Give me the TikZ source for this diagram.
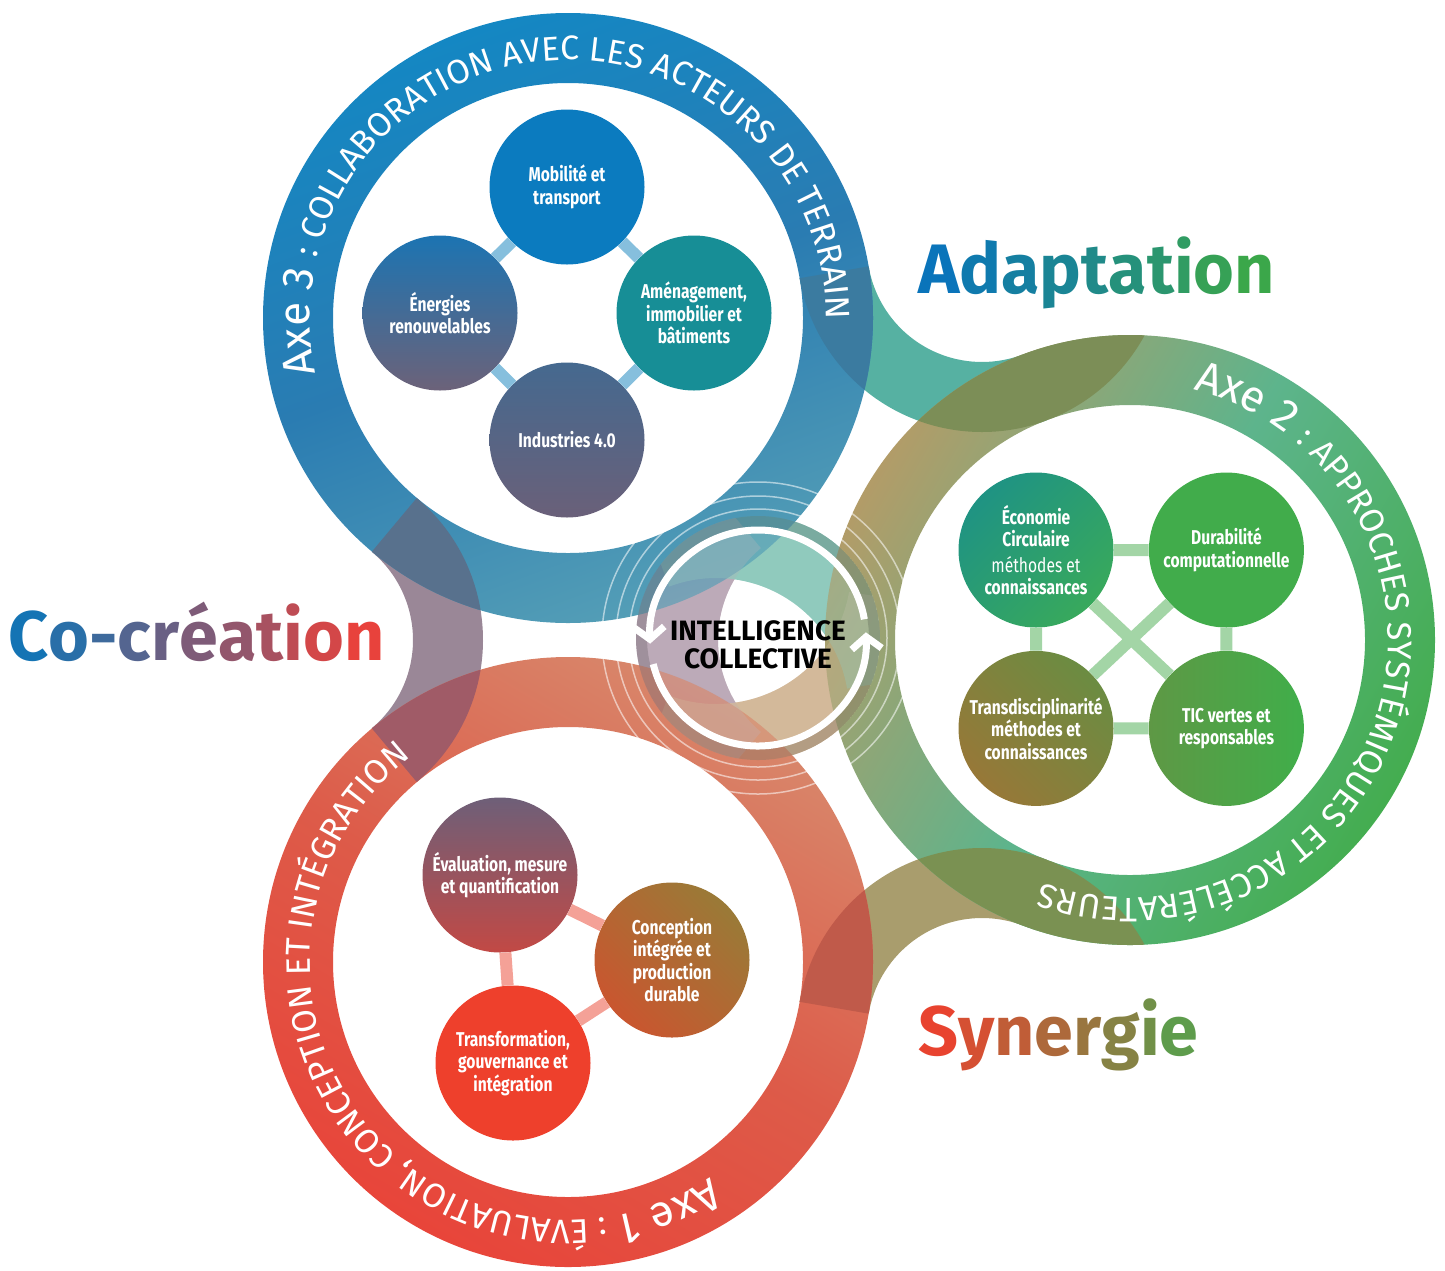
\documentclass[tikz,border=0pt]{standalone}
\usepackage{fontspec}
\setmainfont{Fira Sans}
\newfontfamily\labelfont{Fira Sans}[FakeStretch=0.78]
\definecolor{ringonetop}{RGB}{20, 135, 195}
\definecolor{ringonemid}{RGB}{42, 124, 178}
\definecolor{ringonebot}{RGB}{84, 158, 182}
\definecolor{ringtwoleft}{RGB}{178, 156, 104}
\definecolor{ringtwomid}{RGB}{93, 180, 140}
\definecolor{ringtworight}{RGB}{68, 173, 80}
\definecolor{ringthreetop}{RGB}{216, 135, 107}
\definecolor{ringthreemid}{RGB}{221, 91, 73}
\definecolor{ringthreebot}{RGB}{232, 69, 58}
\definecolor{bridgeAB}{RGB}{86, 177, 162}
\definecolor{bridgeAC}{RGB}{154, 135, 151}
\definecolor{bridgeBC}{RGB}{169, 157, 109}
\definecolor{overABa}{RGB}{59, 123, 160}
\definecolor{overABb}{RGB}{124, 142, 87}
\definecolor{overACa}{RGB}{88, 113, 141}
\definecolor{overACc}{RGB}{160, 91, 103}
\definecolor{overBCb}{RGB}{122, 145, 82}
\definecolor{overBCc}{RGB}{192, 90, 74}
\definecolor{innerteal}{RGB}{144, 202, 189}
\definecolor{innerlilac}{RGB}{188, 170, 184}
\definecolor{innertan}{RGB}{211, 185, 154}
\definecolor{mobil}{RGB}{11, 123, 191}
\definecolor{enerA}{RGB}{28, 116, 178}
\definecolor{enerB}{RGB}{108, 98, 121}
\definecolor{amena}{RGB}{23, 142, 150}
\definecolor{induA}{RGB}{69, 105, 143}
\definecolor{induB}{RGB}{106, 96, 121}
\definecolor{econA}{RGB}{31, 147, 131}
\definecolor{econB}{RGB}{56, 169, 92}
\definecolor{durab}{RGB}{65, 172, 75}
\definecolor{transA}{RGB}{151, 120, 56}
\definecolor{transB}{RGB}{107, 140, 66}
\definecolor{ticA}{RGB}{94, 152, 69}
\definecolor{ticB}{RGB}{64, 174, 74}
\definecolor{evalA}{RGB}{110, 95, 120}
\definecolor{evalB}{RGB}{194, 73, 69}
\definecolor{concA}{RGB}{201, 86, 47}
\definecolor{concB}{RGB}{154, 122, 55}
\definecolor{transf}{RGB}{238, 64, 44}
\definecolor{lnkblue}{RGB}{134, 191, 221}
\definecolor{lnkgreen}{RGB}{163, 213, 166}
\definecolor{lnkred}{RGB}{244, 161, 151}
\definecolor{adaptA}{RGB}{10, 116, 186}
\definecolor{adaptB}{RGB}{59, 167, 74}
\definecolor{cocreaA}{RGB}{20, 116, 180}
\definecolor{cocreaB}{RGB}{232, 66, 60}
\definecolor{synA}{RGB}{232, 67, 47}
\definecolor{synB}{RGB}{94, 156, 76}
\usetikzlibrary{
  arrows.meta,
  calc,
  decorations.text,
  positioning,
}
\tikzset{
  >=Straight Barb[],
  topic/.style={circle, minimum size=155pt, inner sep=0pt, align=center, text=white,
    font=\labelfont\bfseries\fontsize{20}{22.5}\selectfont},
  link1/.style={draw=lnkblue, line width=12pt},
  link2/.style={draw=lnkgreen, line width=12pt},
  link3/.style={draw=lnkred, line width=12pt},
  ringone/.style={even odd rule, top color=ringonetop, bottom color=ringonebot,
    middle color=ringonemid, shading angle=20},
  ringtwo/.style={even odd rule, left color=ringtwoleft, right color=ringtworight,
    middle color=ringtwomid, shading angle=60},
  ringthree/.style={even odd rule, top color=ringthreetop, bottom color=ringthreebot,
    middle color=ringthreemid, shading angle=-30},
  turnarrow/.style={draw=white, line width=7pt, -{Straight Barb[length=12pt, width=30pt]}},
  ringtext/.style={decorate, decoration={text along path, text align=center,
    text color=white, text={#1}}},
  bigword/.style={inner sep=0pt, font=\bfseries\fontsize{70}{70}\selectfont},
}
% annular piece: centre, start, end, inner radius, outer radius
\newcommand{\band}[5]{(#1) ++(#2:#5) arc[start angle=#2, end angle=#3, radius=#5]
  -- ($(#1)+(#3:#4)$) arc[start angle=#3, end angle=#2, radius=#4] -- cycle}
\newcommand{\ring}[1]{(#1) circle (305) (#1) circle (235)}
\newcommand{\axefont}{\fontsize{44}{44}\selectfont}
\newcommand{\capfont}{\fontsize{34}{34}\selectfont}
\ExplSyntaxOn
\NewDocumentCommand \gradword { m m m }
  {
    \int_set:Nn \l_tmpa_int { \tl_count:n { #3 } - 1 }
    \int_zero:N \l_tmpb_int
    \tl_map_inline:nn { #3 }
      {
        \tl_set:Nx \l_tmpa_tl { #2 ! \int_eval:n { 100 * \l_tmpb_int / \l_tmpa_int } ! #1 }
        \exp_args:NV \textcolor \l_tmpa_tl { ##1 }
        \int_incr:N \l_tmpb_int
      }
  }
\ExplSyntaxOff

\begin{document}
\begin{tikzpicture}[x=1pt, y=-1pt]
  \useasboundingbox (0,0) rectangle (1445,1270);
  \coordinate (P1) at (568,318);
  \coordinate (P2) at (1130,640);
  \coordinate (P3) at (568,962);
  \coordinate (C) at (758,638);
  \coordinate (B12) at (982,247);
  \coordinate (B13) at (298,640);
  \coordinate (B23) at (982,1033);
  \coordinate (I12) at (716,711);
  \coordinate (I13) at (838,640);
  \coordinate (I23) at (716,569);

  % bridges
  \fill[bridgeAB] \band{B12}{69.4}{170.3}{115}{185};
  \fill[bridgeAC] \band{B13}{-50.1}{50.1}{115}{185};
  \fill[bridgeBC] \band{B23}{-170.3}{-69.4}{115}{185};

  % centre pieces, under the rings
  \begin{scope}
    \clip (C) circle (122);
    \fill[innerlilac] \band{I13}{130}{230}{120}{260};
    \fill[innertan] \band{I23}{9.7}{110.6}{135}{260};
    \fill[innerteal] \band{I12}{-110.6}{-9.7}{133}{260};
  \end{scope}

  % the three axes
  \shade[ringone] \ring{P1};
  \shade[ringtwo] \ring{P2};
  \shade[ringthree] \ring{P3};

  % where bridges cross the rings
  \begin{scope}
    \clip \band{B12}{69.4}{170.3}{115}{185};
    \fill[overABa, even odd rule] \ring{P1};
  \end{scope}
  \begin{scope}
    \clip (B12) circle (185);
    \fill[overABb, even odd rule] \ring{P2};
  \end{scope}
  \begin{scope}
    \clip \band{B13}{-50.1}{50.1}{115}{185};
    \fill[overACa, even odd rule] \ring{P1};
    \fill[overACc, even odd rule] \ring{P3};
  \end{scope}
  \begin{scope}
    \clip (B23) circle (185);
    \fill[overBCb, even odd rule] \ring{P2};
  \end{scope}
  \begin{scope}
    \clip \band{B23}{-170.3}{-69.4}{115}{185};
    \fill[overBCc, even odd rule] \ring{P3};
  \end{scope}

  % centre
  \begin{scope}
    \clip (C) circle (122);
    \begin{scope}[fill opacity=.35]
      \fill[innerlilac] \band{I13}{130}{230}{120}{260};
      \fill[innertan] \band{I23}{9.7}{110.6}{135}{260};
      \fill[innerteal] \band{I12}{-110.6}{-9.7}{133}{260};
    \end{scope}
    \fill[black, fill opacity=.15, even odd rule] (C) circle (122) (C) circle (111);
  \end{scope}
  \draw[white, opacity=.55, line width=1.5pt] (C) circle (129) (C) circle (142) (C) circle (156);
  \draw[turnarrow] (C) ++(350:108) arc[start angle=350, end angle=177, radius=108];
  \draw[turnarrow] (C) ++(166:108) arc[start angle=166, end angle=-3, radius=108];
  \node[inner sep=0pt, align=center, font=\bfseries\fontsize{28}{28}\selectfont]
    (ic) at (758,645) {INTELLIGENCE\\COLLECTIVE};

  % ring titles
  \path[ringtext={|\axefont|Axe 3 |\capfont|: COLLABORATION AVEC LES ACTEURS DE TERRAIN}]
    (P1) ++(119:258) arc[start angle=119, end angle=409, radius=258];
  \path[ringtext={|\axefont|Axe 2 |\capfont|: APPROCHES SYSTÉMIQUES ET ACCÉLÉRATEURS}]
    (P2) ++(-128:258) arc[start angle=-128, end angle=162, radius=258];
  \path[ringtext={|\axefont|Axe 1 |\capfont|: ÉVALUATION, CONCEPTION ET INTÉGRATION}]
    (P3) ++(0:258) arc[start angle=0, end angle=289, radius=258];

  % axe 3
  \node[topic, fill=mobil] (mob) at (567,187) {Mobilité et\\transport};
  \node[topic, top color=enerA, bottom color=enerB] (ener) at (440,313) {Énergies\\renouvelables};
  \node[topic, fill=amena] (amen) at (694,313) {Aménagement,\\immobilier et\\bâtiments};
  \node[topic, top color=induA, bottom color=induB] (indu) at (567,440) {Industries 4.0};
  \draw[link1] (mob) -- (ener) (mob) -- (amen) (ener) -- (indu) (amen) -- (indu);

  % axe 2
  \node[topic, left color=econA, right color=econB, shading angle=45] (econ) at (1036,550)
    {Économie\\Circulaire\\[3pt]\mdseries méthodes et\\connaissances};
  \node[topic, fill=durab, right=35pt of econ] (dura) {Durabilité\\computationnelle};
  \node[topic, left color=transA, right color=transB, shading angle=135, below=23pt of econ]
    (trans) {Transdisciplinarité\\méthodes et\\connaissances};
  \node[topic, left color=ticA, right color=ticB, right=35pt of trans] (tic) {TIC vertes et\\responsables};
  \draw[link2] (econ) -- (dura) (econ) -- (trans) (dura) -- (tic) (trans) -- (tic)
    (econ) -- (tic) (dura) -- (trans);

  % axe 1
  \node[topic, top color=evalA, bottom color=evalB] (eval) at (500,875) {Évaluation, mesure\\et quantification};
  \node[topic, left color=concA, right color=concB, shading angle=135] (conc) at (672,960)
    {Conception\\intégrée et\\production\\durable};
  \node[topic, fill=transf] (trf) at (513,1063) {Transformation,\\gouvernance et\\intégration};
  \draw[link3] (eval) -- (conc) (eval) -- (trf) (trf) -- (conc);

  \node[bigword, anchor=base west] (adapt) at (918,293) {\gradword{adaptA}{adaptB}{Adaptation}};
  \node[bigword, anchor=base west] (cocrea) at (8,660) {\gradword{cocreaA}{cocreaB}{Co-création}};
  \node[bigword, anchor=base west] (syner) at (918,1055) {\gradword{synA}{synB}{Synergie}};
\end{tikzpicture}
\end{document}
